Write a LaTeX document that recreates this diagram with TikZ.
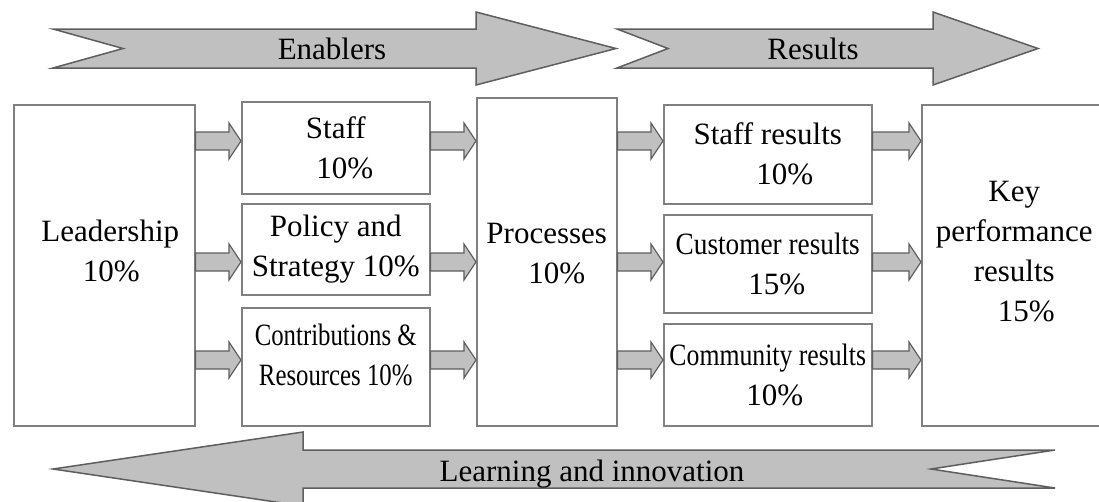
\documentclass[tikz,border=0pt]{standalone}
\usepackage{fontspec}
\setmainfont{Liberation Serif}
\usepackage{graphicx}
\usepackage{tikz}
\usetikzlibrary{calc, positioning}

\definecolor{arrowgray}{HTML}{C0C0C0}
\definecolor{edgegray}{HTML}{5E5E5E}
\definecolor{boxgray}{HTML}{808080}

\tikzset{
  box/.style={draw=boxgray, line width=1.5pt, fill=white, align=center, inner sep=0pt, anchor=north west, font=\fontsize{31}{40}\selectfont},
  lift/.style={text depth=#1},
  bigarrow/.style={draw=edgegray, line width=1.5pt, fill=arrowgray},
  blockarr/.style={draw=edgegray, line width=1.2pt, fill=arrowgray},
  banner/.style={font=\fontsize{31}{40}\selectfont, inner sep=0pt, anchor=base},
}

% fat arrow from #1 to #2 (same height)
\newcommand{\blockarrow}[2]{%
  \draw[blockarr] let \p1=#1, \p2=#2 in
    (\x1,\y1+9) -- (\x2-12,\y1+9) -- (\x2-12,\y1+18) -- (\x2,\y1)
    -- (\x2-12,\y1-18) -- (\x2-12,\y1-9) -- (\x1,\y1-9) -- cycle;}
\newcommand{\squeeze}[2]{\scalebox{#1}[1]{#2}}

\begin{document}
\begin{tikzpicture}[x=1pt, y=-1pt]
  \useasboundingbox (0,0) rectangle (1099,501);

  % Top arrows
  \draw[bigarrow] (53,29) -- (476,29) -- (476,12) -- (616,48.5) -- (476,85) -- (476,68) -- (53,68) -- (123,48.5) -- cycle;
  \node[banner] (enablers) at (332,59) {Enablers};
  \draw[bigarrow] (617,29) -- (933,29) -- (933,12) -- (1038,48.5) -- (933,85) -- (933,68) -- (617,68) -- (668,48.5) -- cycle;
  \node[banner] (results) at (813,59) {Results};

  % Boxes
  \node[box, lift=29pt, minimum width=181, minimum height=321] (leader) at (13,104) {\hspace*{12pt}Leadership\\\hspace*{14pt}10\%};
  \node[box, minimum width=188, minimum height=92] (staff) at (241,101) {Staff\\\hspace*{18pt}10\%};
  \node[box, minimum width=188, minimum height=91] (policy) at (241,203) {Policy and\\Strategy 10\%};
  \node[box, lift=25pt, minimum width=188, minimum height=118] (contrib) at (241,307) {\squeeze{0.8}{Contributions \&}\\\squeeze{0.8}{Resources 10\%}};
  \node[box, lift=17pt, minimum width=140, minimum height=328] (proc) at (476,97) {Processes\\\hspace*{20pt}10\%};
  \node[box, minimum width=208, minimum height=99] (staffres) at (663,104) {Staff results\\\hspace*{34pt}10\%};
  \node[box, minimum width=208, minimum height=98] (custres) at (663,214) {\squeeze{0.88}{Customer results}\\\hspace*{18pt}15\%};
  \node[box, minimum width=208, minimum height=102] (commres) at (663,323) {\squeeze{0.83}{Community results}\\\hspace*{14pt}10\%};
  \node[box, lift=27pt, minimum width=185, minimum height=321] (key) at (921,104) {Key\\performance\\results\\\hspace*{24pt}15\%};

  % Small arrows
  \coordinate (r1) at (0,141);
  \coordinate (r2) at (0,262);
  \coordinate (r3) at (0,360);
  \foreach \src/\dst/\lvl in {leader/staff/r1, leader/policy/r2, leader/contrib/r3,
      staff/proc/r1, policy/proc/r2, contrib/proc/r3,
      proc/staffres/r1, proc/custres/r2, proc/commres/r3,
      staffres/key/r1, custres/key/r2, commres/key/r3} {
    \blockarrow{(\src.east |- \lvl)}{(\dst.west |- \lvl)}
  }

  % Bottom arrow
  \draw[bigarrow] (1055,450) -- (303,450) -- (303,432) -- (53,469) -- (303,506) -- (303,488) -- (1055,488) -- (931,469) -- cycle;
  \node[banner] (learning) at (592,481) {Learning and innovation};
\end{tikzpicture}
\end{document}
